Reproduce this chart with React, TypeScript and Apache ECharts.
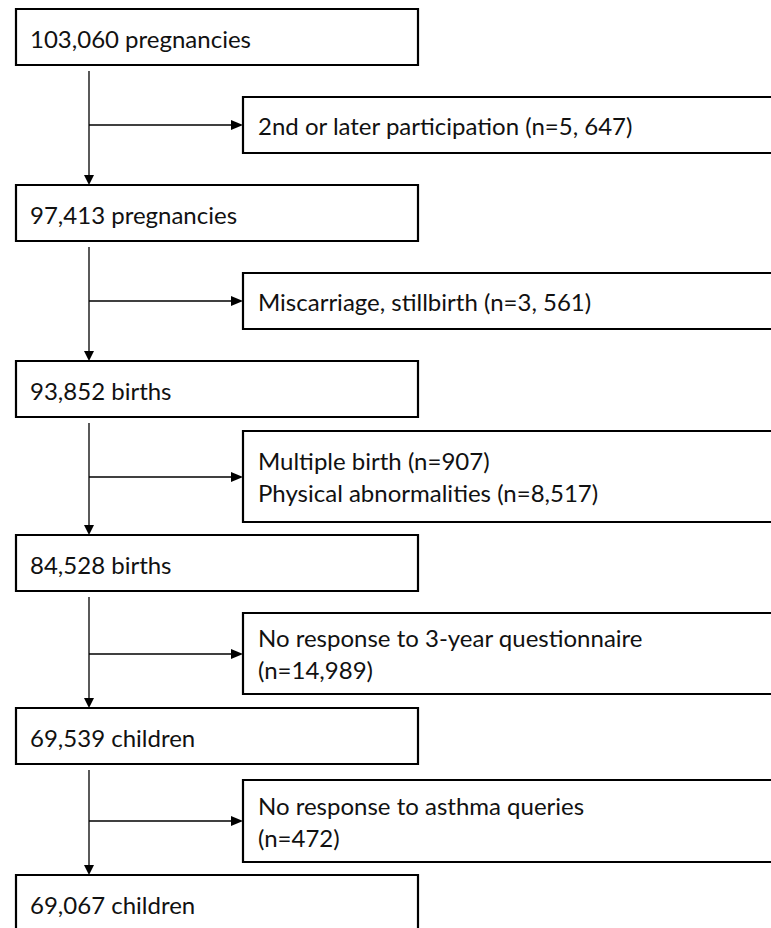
import React, { useEffect, useRef } from "react";
import * as echarts from "echarts";

// ---- data ----
const stageCounts = ["103,060", "97,413", "93,852", "84,528", "69,539", "69,067"];
const stageUnits = ["pregnancies", "pregnancies", "births", "births", "children", "children"];
const exclusionLabels = [
  ["2nd or later participation (n=5, 647)"],
  ["Miscarriage, stillbirth (n=3, 561)"],
  ["Multiple birth (n=907)", "Physical abnormalities (n=8,517)"],
  ["No response to 3-year questionnaire", "(n=14,989)"],
  ["No response to asthma queries", "(n=472)"],
];

// ---- layout (pixels) ----
const MAIN_X = 16;
const MAIN_W = 402;
const MAIN_H = 56;
const mainTops = [9, 185, 361, 535, 708, 875];
const SIDE_X = 243;
const SIDE_W = 600;
const sideTops = [97, 273, 431, 613, 780];
const sideHeights = [56, 56, 91, 81, 82];
const STEM_X = 89;
const FONT = "24px Lato";
const INK = "#111";

function buildElements() {
  const els: any[] = [];
  stageCounts.forEach((c, i) => {
    const top = mainTops[i];
    els.push({
      type: "rect",
      shape: { x: MAIN_X, y: top, width: MAIN_W, height: MAIN_H },
      style: { fill: "#fff", stroke: "#000", lineWidth: 2.2 },
      z: 2,
    });
    els.push({
      type: "text",
      x: MAIN_X + 14,
      y: top + MAIN_H / 2 + 1,
      style: { text: `${c} ${stageUnits[i]}`, font: FONT, fill: INK, verticalAlign: "middle", align: "left" },
      z: 3,
    });
  });
  exclusionLabels.forEach((lines, i) => {
    const top = sideTops[i];
    const h = sideHeights[i];
    const cy = top + h / 2;
    els.push({
      type: "rect",
      shape: { x: SIDE_X, y: top, width: SIDE_W, height: h },
      style: { fill: "#fff", stroke: "#000", lineWidth: 2.2 },
      z: 2,
    });
    els.push({
      type: "text",
      x: SIDE_X + 15,
      y: cy,
      style: { text: lines.join("\n"), font: FONT, lineHeight: 32, fill: INK, verticalAlign: "middle", align: "left" },
      z: 3,
    });
    // vertical stem from stage box to next stage box
    const y0 = mainTops[i] + MAIN_H + 6;
    const y1 = mainTops[i + 1];
    els.push({
      type: "line",
      shape: { x1: STEM_X, y1: y0, x2: STEM_X, y2: y1 - 9 },
      style: { stroke: "#000", lineWidth: 1.3 },
      z: 1,
    });
    els.push({
      type: "polygon",
      shape: { points: [[STEM_X - 5, y1 - 10], [STEM_X + 5, y1 - 10], [STEM_X, y1]] },
      style: { fill: "#000" },
      z: 1,
    });
    // horizontal branch to exclusion box
    const ay = Math.round(cy);
    els.push({
      type: "line",
      shape: { x1: STEM_X, y1: ay, x2: SIDE_X - 11, y2: ay },
      style: { stroke: "#000", lineWidth: 1.3 },
      z: 1,
    });
    els.push({
      type: "polygon",
      shape: { points: [[SIDE_X - 12, ay - 5], [SIDE_X - 12, ay + 5], [SIDE_X, ay]] },
      style: { fill: "#000" },
      z: 1,
    });
  });
  return els;
}

export default function App() {
  const ref = useRef<HTMLDivElement>(null);
  useEffect(() => {
    document.body.style.margin = "0";
    const chart = echarts.init(ref.current!, null, { renderer: "svg" });
    chart.setOption({
      animation: false,
      backgroundColor: "#fff",
      graphic: { elements: buildElements() },
    });
    return () => chart.dispose();
  }, []);
  return <div ref={ref} style={{ width: 771, height: 928 }} />;
}
